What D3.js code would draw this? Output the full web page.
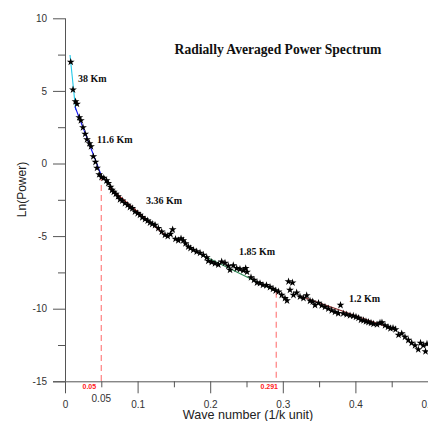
<!DOCTYPE html>
<html><head><meta charset="utf-8">
<script src="https://cdn.jsdelivr.net/npm/d3@7"></script>
<style>html,body{margin:0;padding:0;background:#fff;overflow:hidden}</style>
</head><body>
<svg id="c" width="428" height="421"></svg>
<script>
// ---- data ----
const waveNumber = [0.0079,0.0110,0.0145,0.0165,0.0197,0.0218,0.0248,0.0278,0.0303,0.0337,0.0358,0.0390,0.0420,0.0441,0.0471,0.0503,0.0534,0.0572,0.0596,0.0627,
0.0647,0.0672,0.0700,0.0730,0.0758,0.0789,0.0826,0.0864,0.0895,0.0927,0.0964,0.1001,0.1033,0.1065,0.1102,0.1139,0.1171,0.1202,0.1240,0.1285,
0.1332,0.1377,0.1415,0.1453,0.1483,0.1522,0.1561,0.1598,0.1629,0.1660,0.1698,0.1729,0.1767,0.1814,0.1860,0.1905,0.1952,0.1974,0.2021,0.2066,
0.2112,0.2158,0.2204,0.2249,0.2273,0.2318,0.2365,0.2410,0.2456,0.2489,0.2507,0.2562,0.2603,0.2645,0.2686,0.2727,0.2775,0.2824,0.2865,0.2902,
0.2941,0.2985,0.3030,0.3058,0.3079,0.3099,0.3134,0.3147,0.3191,0.3237,0.3285,0.3329,0.3375,0.3412,0.3444,0.3492,0.3536,0.3581,0.3627,0.3674,
0.3719,0.3764,0.3795,0.3833,0.3880,0.3926,0.3971,0.4008,0.4043,0.4077,0.4112,0.4146,0.4180,0.4215,0.4249,0.4298,0.4339,0.4366,0.4408,0.4449,
0.4483,0.4518,0.4552,0.4594,0.4638,0.4683,0.4729,0.4775,0.4821,0.4866,0.4897,0.4935,0.4966,0.4986];
const lnPower = [6.99,5.08,4.27,4.10,3.17,2.96,2.48,2.03,1.65,1.38,1.17,0.48,0.10,-0.31,-0.76,-0.94,-1.00,-1.18,-1.36,-1.62,
-1.83,-1.96,-2.10,-2.27,-2.47,-2.56,-2.74,-2.86,-3.00,-3.09,-3.32,-3.43,-3.55,-3.71,-3.84,-3.94,-4.08,-4.17,-4.24,-4.46,
-4.70,-4.92,-5.01,-4.86,-4.55,-5.20,-5.29,-5.17,-5.30,-5.51,-5.73,-5.84,-5.96,-6.07,-6.16,-6.30,-6.47,-6.71,-6.80,-6.89,
-6.96,-6.76,-6.85,-7.06,-7.33,-7.02,-7.22,-7.27,-7.37,-7.22,-7.47,-7.85,-8.02,-8.20,-8.25,-8.37,-8.39,-8.51,-8.64,-8.75,
-8.83,-9.06,-9.28,-9.44,-8.13,-8.71,-8.21,-9.06,-8.90,-9.17,-9.28,-9.09,-9.46,-9.52,-9.75,-9.61,-9.78,-9.88,-10.00,-10.12,
-10.23,-10.32,-9.75,-10.33,-10.40,-10.47,-10.50,-10.57,-10.64,-10.78,-10.81,-10.88,-10.92,-10.98,-11.05,-11.09,-10.98,-10.95,-11.16,-11.26,
-11.36,-11.33,-11.43,-11.81,-11.71,-11.95,-12.16,-12.36,-12.53,-12.81,-12.36,-12.53,-12.95,-12.43];

// fitted segments
const fitNames = ["38 Km","11.6 Km","3.36 Km","1.85 Km","1.2 Km"];
const fitK0 = [0.0069, 0.0138, 0.0620, 0.1860, 0.3237];
const fitV0 = [7.47, 3.91, -1.70, -6.23, -9.13];
const fitK1 = [0.0147, 0.0515, 0.1401, 0.2920, 0.4559];
const fitV1 = [3.68, -1.02, -5.04, -8.83, -11.47];
const fitColors = ["#22c8e8", "#1010ee", "#ee1010", "#2e8b57", "#8b2a2a"];
const labelK = [0.0179, 0.0441, 0.1116, 0.2397, 0.3912];
const labelV = [5.64, 1.43, -2.80, -6.31, -9.55];

const cutK = [0.05, 0.291];
const cutV = [-0.80, -8.83];
const cutLabels = ["0.05", "0.291"];

const xMajor = [0, 0.1, 0.2, 0.3, 0.4, 0.5];
const xMinor = [0.05, 0.15, 0.25, 0.35, 0.45];
const yMajor = [10, 5, 0, -5, -10, -15];
const yMinor = [7.5, 2.5, -2.5, -7.5, -12.5];

// ---- drawing ----
const svg = d3.select("#c");
const x = d3.scaleLinear().domain([0, 0.5]).range([65, 428]);
const y = d3.scaleLinear().domain([-15, 10]).range([381.3, 18.3]);
const axisCol = "#555";
const font = "'Liberation Sans', Arial, sans-serif";
const serif = "'Liberation Serif', 'Times New Roman', serif";

const gy = svg.append("g").attr("transform", `translate(${x(0)},0)`);
gy.call(d3.axisLeft(y).tickValues(yMajor).tickSize(12).tickPadding(6).tickFormat(d => String(d)));
gy.append("g").call(d3.axisLeft(y).tickValues(yMinor).tickSize(7).tickFormat(""));
gy.selectAll(".domain").filter((d,i)=>i>0).remove();
const gx = svg.append("g").attr("transform", `translate(0,${y(-15)})`);
gx.call(d3.axisBottom(x).tickValues(xMajor).tickSize(12).tickPadding(8).tickFormat(d => String(d)));
gx.append("g").call(d3.axisBottom(x).tickValues(xMinor).tickSize(6).tickFormat(""));
gx.selectAll(".domain").filter((d,i)=>i>0).remove();
gx.select(".domain").attr("d", `M${x(0)-12},0.5H${x(0.5)}`);
gy.select(".domain").attr("d", `M0.5,${y(10)}V${y(-15)}`);
svg.selectAll(".domain, .tick line").attr("stroke", axisCol).attr("stroke-width", 1);
svg.selectAll(".tick text").attr("fill", "#333").style("font-family", font).style("font-size", "10px");

svg.append("text").attr("x", x(0.05)).attr("y", 401.5).attr("text-anchor", "middle")
  .attr("fill", "#333").style("font-family", font).style("font-size", "10px").text("0.05");

cutK.forEach((k, i) => {
  svg.append("line").attr("x1", x(k)).attr("x2", x(k)).attr("y1", y(cutV[i])).attr("y2", y(-15))
    .attr("stroke", "#ff8a8a").attr("stroke-width", 1.3).attr("stroke-dasharray", "6,4");
  svg.append("text").attr("x", x(k) - (i === 0 ? 12 : 7)).attr("y", 389).attr("text-anchor", "middle")
    .attr("fill", "#ff2020").style("font-family", font).style("font-size", "7px").style("font-weight", "bold")
    .text(cutLabels[i]);
});

fitK0.forEach((k, i) => {
  svg.append("line").attr("x1", x(k)).attr("y1", y(fitV0[i])).attr("x2", x(fitK1[i])).attr("y2", y(fitV1[i]))
    .attr("stroke", fitColors[i]).attr("stroke-width", 1.1);
});

const star = d3.symbol().type(d3.symbolStar).size(19);
svg.append("g").selectAll("path").data(waveNumber).join("path")
  .attr("transform", (d, i) => `translate(${x(d)},${y(lnPower[i])})`)
  .attr("d", star).attr("fill", "#000");

fitNames.forEach((n, i) => {
  svg.append("text").attr("x", x(labelK[i])).attr("y", y(labelV[i]))
    .style("font-family", serif).style("font-size", "10px").style("font-weight", "bold").attr("fill", "#111").text(n);
});

svg.append("text").attr("x", 278).attr("y", 53.5).attr("text-anchor", "middle")
  .style("font-family", serif).style("font-size", "13.6px").style("font-weight", "bold").attr("fill", "#111")
  .text("Radially Averaged Power Spectrum");

svg.append("text").attr("transform", "translate(25.5,189.5) rotate(-90)").attr("text-anchor", "middle")
  .style("font-family", font).style("font-size", "12px").attr("fill", "#222").text("Ln(Power)");
svg.append("text").attr("x", 248).attr("y", 419).attr("text-anchor", "middle")
  .style("font-family", font).style("font-size", "12.6px").attr("fill", "#222").text("Wave number (1/k  unit)");
</script>
</body></html>
